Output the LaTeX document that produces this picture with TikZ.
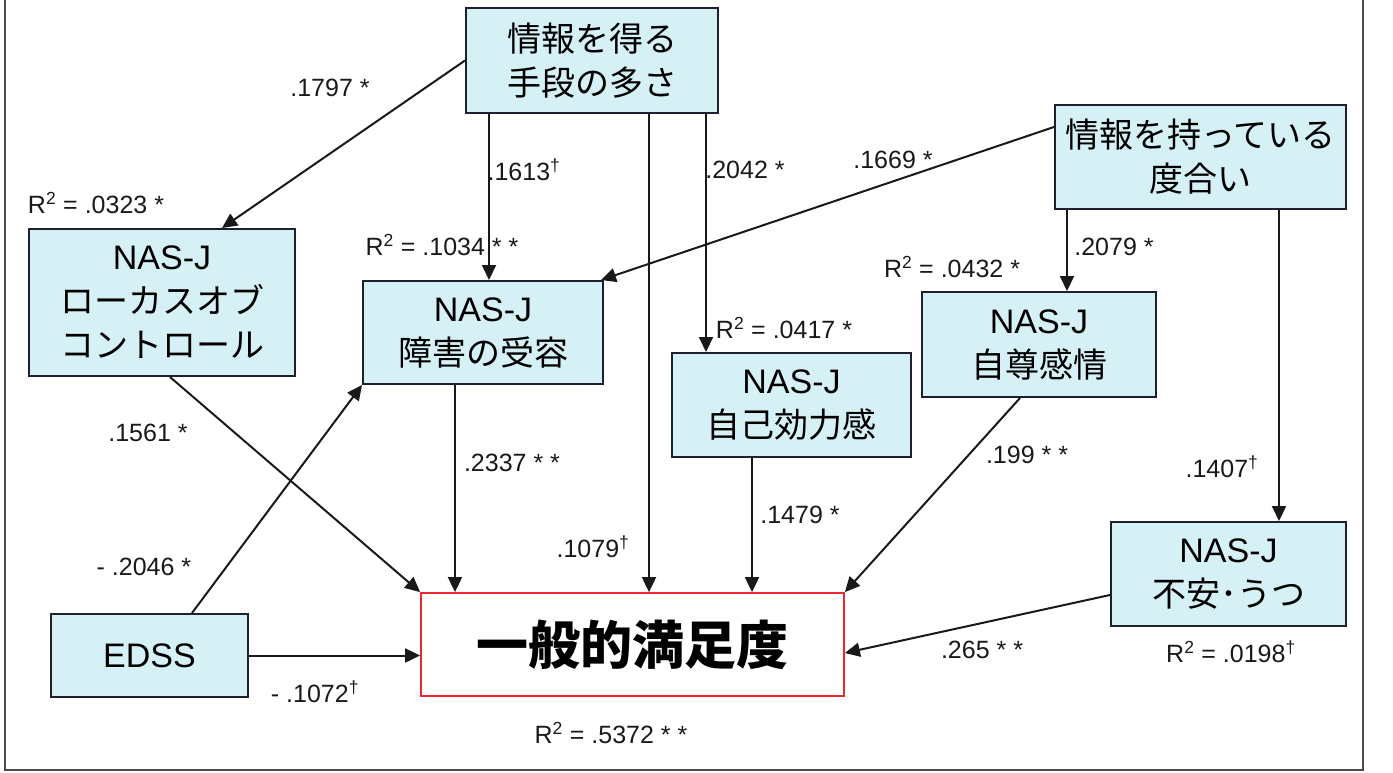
\documentclass[tikz,border=0pt]{standalone}
\usepackage{fontspec}
\setmainfont{Liberation Sans}
\newfontfamily\jp{Noto Sans CJK JP}
\usetikzlibrary{arrows.meta}
\definecolor{boxfill}{RGB}{214,241,246}
\definecolor{boxline}{RGB}{30,32,45}
\definecolor{satred}{RGB}{235,40,50}
\definecolor{framec}{RGB}{70,75,80}
\tikzset{
  var/.style={draw=boxline, fill=boxfill, line width=2pt, align=center, inner sep=0pt,
    font=\fontsize{34}{44}\selectfont},
  outbox/.style={draw=satred, fill=white, line width=1.8pt, align=center, inner sep=0pt,
    font=\jp\bfseries\fontsize{52}{60}\selectfont},
  conn/.style={draw=black!90, line width=2pt, -{Triangle[length=15pt,width=14pt]}},
  lbl/.style={font=\fontsize{25}{30}\selectfont, inner sep=0pt, text=black!90}
}
\begin{document}
\begin{tikzpicture}[x=1pt,y=-1pt]
\useasboundingbox (0,0) rectangle (1393,772);
\draw[framec, line width=2pt] (5,0) -- (5,770) -- (1363,770) -- (1363,0);

% boxes
\node[var, minimum width=252pt, minimum height=105pt] (A) at (592,60.5) {{\jp 情報を得る}\\{\jp 手段の多さ}};
\node[var, minimum width=291pt, minimum height=104pt] (B) at (1200.5,157) {{\jp 情報を持っている}\\{\jp 度合い}};
\node[var, minimum width=266pt, minimum height=147pt] (LOC) at (162,302.5) {NAS-J\\{\jp ローカスオブ}\\{\jp コントロール}};
\node[var, minimum width=240pt, minimum height=103pt] (ACC) at (483,332.5) {NAS-J\\{\jp 障害の受容}};
\node[var, minimum width=239pt, minimum height=104pt] (EFF) at (791.5,405) {NAS-J\\{\jp 自己効力感}};
\node[var, minimum width=234pt, minimum height=105pt] (EST) at (1039,344.5) {NAS-J\\{\jp 自尊感情}};
\node[var, minimum width=235pt, minimum height=104pt] (ANX) at (1228.5,574) {NAS-J\\{\jp 不安･うつ}};
\node[var, minimum width=197pt, minimum height=83pt] (EDSS) at (149.5,655.5) {EDSS};
\node[outbox, minimum width=423pt, minimum height=103pt] (SAT) at (632.5,644.5) {一般的満足度};

% connectors
\draw[conn] (A.west) -- ([xshift=60pt]LOC.north);
\draw[conn] ([xshift=-103pt]A.south) -- ([xshift=6pt]ACC.north);
\draw[conn] ([xshift=57pt]A.south) -- ([xshift=16.5pt]SAT.north);
\draw[conn] ([xshift=114pt]A.south) -- ([xshift=-85.5pt]EFF.north);
\draw[conn] ([yshift=30pt]B.west) -- ([xshift=-3pt]ACC.north east);
\draw[conn] ([xshift=-133.5pt]B.south) -- ([xshift=28pt]EST.north);
\draw[conn] ([xshift=78.5pt]B.south) -- ([xshift=50.5pt]ANX.north);
\draw[conn] ([xshift=8pt]LOC.south) -- (SAT.north west);
\draw[conn] ([xshift=42.5pt]EDSS.north) -- (ACC.south west);
\draw[conn] (EDSS.east) -- (EDSS.east -| SAT.west);
\draw[conn] ([xshift=-28pt]ACC.south) -- ([xshift=-177.5pt]SAT.north);
\draw[conn] ([xshift=-39.5pt]EFF.south) -- ([xshift=119.5pt]SAT.north);
\draw[conn] ([xshift=-19pt]EST.south) -- (SAT.north east);
\draw[conn] ([yshift=-21pt]ANX.west) -- ([yshift=-8.5pt]SAT.east);

% labels
\node[lbl] (l1) at (330,88) {.1797 *};
\node[lbl] (l2) at (96,203) {R\textsuperscript{2} = .0323 *};
\node[lbl] (l3) at (524,170) {.1613\textsuperscript{†}};
\node[lbl] (l4) at (442,245) {R\textsuperscript{2} = .1034 * *};
\node[lbl] (l5) at (745,170) {.2042 *};
\node[lbl] (l6) at (893,160) {.1669 *};
\node[lbl] (l7) at (1114,247) {.2079 *};
\node[lbl] (l8) at (952,267) {R\textsuperscript{2} = .0432 *};
\node[lbl] (l9) at (784,328) {R\textsuperscript{2} = .0417 *};
\node[lbl] (l10) at (148,433) {.1561 *};
\node[lbl] (l11) at (512,463) {.2337 * *};
\node[lbl] (l12) at (593,547) {.1079\textsuperscript{†}};
\node[lbl] (l13) at (800,515) {.1479 *};
\node[lbl] (l14) at (1027,455) {.199 * *};
\node[lbl] (l15) at (1222,467) {.1407\textsuperscript{†}};
\node[lbl] (l16) at (144,567) {- .2046 *};
\node[lbl] (l17) at (315,692) {- .1072\textsuperscript{†}};
\node[lbl] (l18) at (982,650) {.265 * *};
\node[lbl] (l19) at (1231,652) {R\textsuperscript{2} = .0198\textsuperscript{†}};
\node[lbl] (l20) at (611,733) {R\textsuperscript{2} = .5372 * *};
\end{tikzpicture}
\end{document}
